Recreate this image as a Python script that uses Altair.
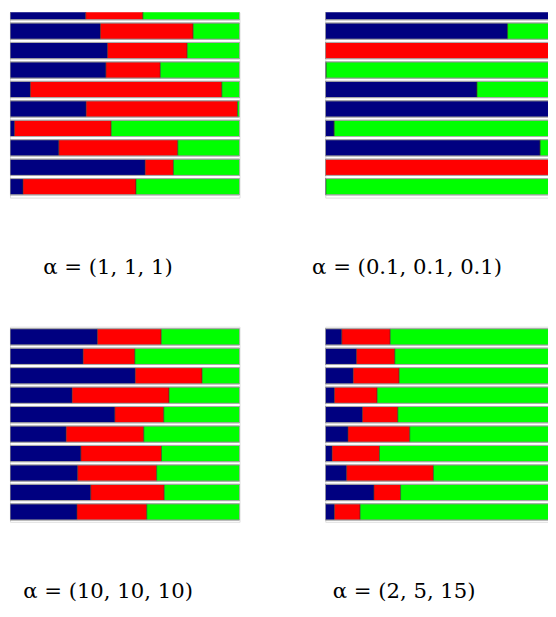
import altair as alt
import pandas as pd

components = ["c1", "c2", "c3"]
palette = ["#000080", "#ff0000", "#00ff00"]
rows = list(range(1, 11))

titles = ["α = (1, 1, 1)", "α = (0.1, 0.1, 0.1)", "α = (10, 10, 10)", "α = (2, 5, 15)"]

blue1 = [0.330, 0.394, 0.425, 0.418, 0.089, 0.332, 0.020, 0.213, 0.589, 0.057]
red1 = [0.249, 0.404, 0.347, 0.237, 0.834, 0.659, 0.421, 0.518, 0.123, 0.492]
green1 = [0.421, 0.202, 0.228, 0.345, 0.077, 0.009, 0.559, 0.269, 0.288, 0.451]

blue2 = [1.000, 0.794, 0.000, 0.004, 0.661, 1.000, 0.039, 0.936, 0.000, 0.003]
red2 = [0.000, 0.000, 1.000, 0.000, 0.000, 0.000, 0.000, 0.000, 1.000, 0.000]
green2 = [0.000, 0.206, 0.000, 0.996, 0.339, 0.000, 0.961, 0.064, 0.000, 0.997]

blue3 = [0.381, 0.319, 0.546, 0.271, 0.457, 0.245, 0.309, 0.295, 0.352, 0.292]
red3 = [0.278, 0.225, 0.291, 0.422, 0.213, 0.338, 0.351, 0.344, 0.320, 0.304]
green3 = [0.341, 0.456, 0.163, 0.307, 0.330, 0.417, 0.340, 0.361, 0.328, 0.404]

blue4 = [0.072, 0.136, 0.122, 0.040, 0.162, 0.099, 0.030, 0.093, 0.212, 0.040]
red4 = [0.211, 0.167, 0.200, 0.186, 0.154, 0.269, 0.206, 0.378, 0.116, 0.112]
green4 = [0.717, 0.697, 0.678, 0.774, 0.684, 0.632, 0.764, 0.529, 0.672, 0.848]

LEFT_W = 233
RIGHT_W = 226
HALF = 0.418          # half bar thickness, in row units
TOP_H = 188
BOT_H = 198
TOP_YDOM = [1.0355, 10.5593]
BOT_YDOM = [0.4782, 10.5086]


def panel(blue, red, green, title, width, height, ydom, xmax, dx, off):
    recs = []
    for i, r in enumerate(rows):
        for k, (comp, vals) in enumerate(zip(components, [blue, red, green])):
            recs.append({"row": r, "comp": comp, "value": vals[i], "order": k})
    df = pd.DataFrame(recs)
    frame_df = pd.DataFrame({"row": rows, "start": [0.0] * 10, "end": [1.0] * 10})
    xscale = alt.Scale(domain=[0, xmax], nice=False, zero=True, padding=0)
    yscale = alt.Scale(domain=ydom, reverse=True, nice=False, zero=False, padding=0)
    bars = alt.Chart(df).transform_calculate(
        r0=f"datum.row - {HALF}", r1=f"datum.row + {HALF}"
    ).mark_bar(
        orient="horizontal", stroke="#303030", strokeWidth=0.5, clip=True
    ).encode(
        x=alt.X("value:Q", stack="zero", scale=xscale, axis=None),
        y=alt.Y("r0:Q", scale=yscale, axis=None),
        y2="r1:Q",
        color=alt.Color("comp:N", scale=alt.Scale(domain=components, range=palette), legend=None),
        order=alt.Order("order:Q"),
    )
    frame = alt.Chart(frame_df).transform_calculate(
        r0=f"datum.row - {HALF}", r1=f"datum.row + {HALF}"
    ).mark_rect(
        fillOpacity=0, stroke="#b0b0b0", strokeWidth=1, clip=True
    ).encode(
        x=alt.X("start:Q", scale=xscale, axis=None),
        x2="end:Q",
        y=alt.Y("r0:Q", scale=yscale, axis=None),
        y2="r1:Q",
    )
    return alt.layer(bars, frame).properties(
        width=width,
        height=height,
        title=alt.TitleParams(
            text=title,
            orient="bottom",
            anchor="middle",
            baseline="middle",
            dx=dx,
            offset=off,
            font="DejaVu Serif",
            fontSize=21.5,
            fontWeight="normal",
            color="black",
        ),
    )


p1 = panel(blue1, red1, green1, titles[0], LEFT_W, TOP_H, TOP_YDOM, 1.0, -17, 72)
p2 = panel(blue2, red2, green2, titles[1], RIGHT_W, TOP_H, TOP_YDOM, RIGHT_W / LEFT_W, -30, 72)
p3 = panel(blue3, red3, green3, titles[2], LEFT_W, BOT_H, BOT_YDOM, 1.0, -17, 71)
p4 = panel(blue4, red4, green4, titles[3], RIGHT_W, BOT_H, BOT_YDOM, RIGHT_W / LEFT_W, -33, 71)

chart = alt.concat(
    p1, p2, p3, p4, columns=2, spacing={"row": 131, "column": 87}, bounds="flush"
).properties(
    autosize=alt.AutoSizeParams(type="none"),
    padding={"left": 2, "top": 0, "right": 546, "bottom": 598},
).configure_view(strokeWidth=0).configure(background="white")

chart.save("out.html", embed_options={"renderer": "svg", "actions": False})
